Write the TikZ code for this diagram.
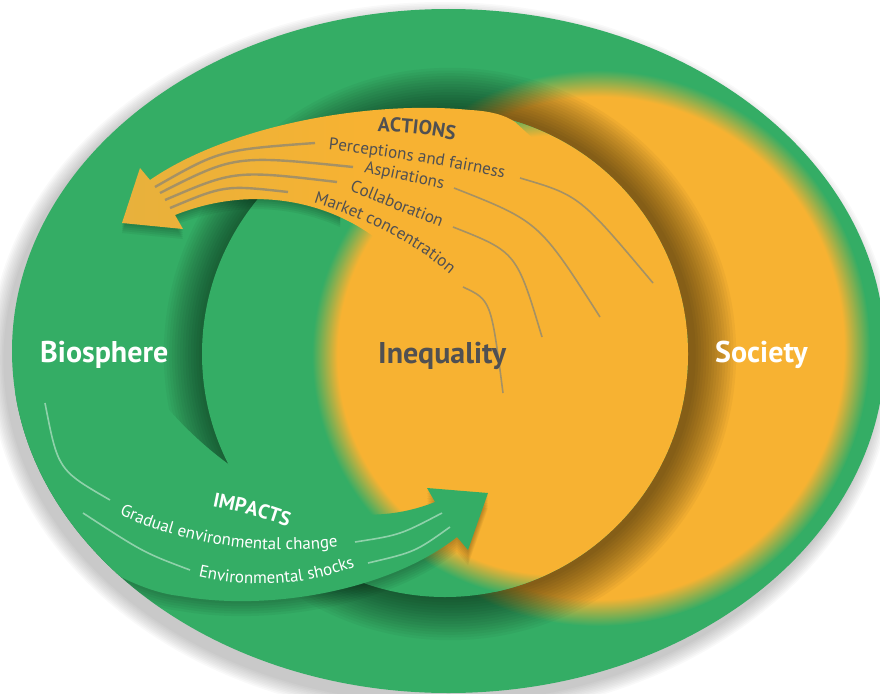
\documentclass[tikz,border=0pt]{standalone}
\usepackage{fontspec}
\setmainfont{PT Sans}
\usetikzlibrary{decorations.text}

\definecolor{leaf}{RGB}{52,173,101}
\definecolor{amber}{RGB}{247,178,50}
\definecolor{amberdim}{RGB}{231,177,60}
\definecolor{ink}{RGB}{80,80,82}
\definecolor{strand}{RGB}{165,145,100}

% soft edged discs
\pgfdeclareradialshading{socglow}{\pgfpoint{0bp}{0bp}}{color(0bp)=(amber); color(22.6bp)=(amber); color(25bp)=(leaf); color(50bp)=(leaf)}
\pgfdeclareradialshading{ineqglow}{\pgfpoint{0bp}{0bp}}{color(0bp)=(amber); color(22.4bp)=(amber); color(25bp)=(leaf); color(50bp)=(leaf)}

% outlines of the two broad arrows
\newcommand{\actionsarrow}{(150,180) .. controls (230,125) and (370,100) .. (470,110) .. controls (490,111) and (505,115) .. (515,122) -- (600,200) -- (560,330) -- (440,340) .. controls (425,240) and (300,165) .. (175,215) -- (183,229) -- (122,223) -- (140,168) -- cycle}
\newcommand{\impactsarrow}{(118,340) -- (150,387) .. controls (230,490) and (340,540) .. (435,502) -- (427,488) -- (488,493) -- (468,550) -- (457,537) .. controls (390,590) and (270,612) .. (180,596) .. controls (120,590) and (0,520) .. (0,400) -- cycle}
\newcommand{\tagfont}{\fontsize{17}{20}\selectfont}
\newcommand{\headfont}{\fontsize{20}{24}\selectfont\bfseries}

\begin{document}
\begin{tikzpicture}[x=1pt, y=-1pt,
  bigword/.style={font=\fontsize{30}{34}\selectfont\bfseries, inner sep=0pt, anchor=base west},
  strandline/.style={draw=strand, line width=2.4pt},
  strandarc/.style={draw=strand, line width=1.6pt},
  paleline/.style={draw=white, draw opacity=0.45, line width=1.6pt},
  arctext/.style={decorate, decoration={text along path, text align=center, text color=#1}},
  ]
\useasboundingbox (0,0) rectangle (880,693);
\coordinate (rim) at (448.5,351);
\coordinate (core) at (445,354);
\coordinate (glowc) at (557,355);
\coordinate (socc) at (598,348);

% shadow under the outer ring
\foreach \k in {1,...,10}
  \fill[black, opacity=0.025] ([shift={(-7,9)}]rim) ellipse [x radius=436.5+1.6*\k, y radius=342+1.6*\k];
\fill[leaf] (rim) ellipse [x radius=436.5, y radius=342];

% society
\shade[shading=socglow] (socc) ellipse [x radius=272, y radius=278];

% halo round the inner disc
\foreach \k in {1,...,16}
  \fill[black, opacity=0.036] ([xshift=5pt]core) circle [radius=243+2.7*\k];

% inequality disc
\begin{scope}
  \clip (core) circle [radius=243];
  \fill[leaf] (core) circle [radius=243];
  \shade[shading=ineqglow] (glowc) circle [radius=245];
\end{scope}

% actions arrow
\begin{scope}
  \clip (0,0) rectangle (340,693);
  \foreach \k in {1,...,5}
    \fill[black, opacity=0.05, shift={(0,2*\k)}] \actionsarrow;
\end{scope}
\shade[left color=amberdim, right color=amber, middle color=amber] \actionsarrow;

\draw[strandline] (155,187) .. controls (220,150) .. (315,143);
\draw[strandline] (160,193) .. controls (235,155) .. (353,167);
\draw[strandline] (165,200) .. controls (235,170) .. (337,182);
\draw[strandline] (170,208) .. controls (225,185) .. (288,192);
\draw[strandarc] (520,178) .. controls (579.5,195.5) .. (653,283);
\draw[strandarc] (454,188) .. controls (539,221.5) .. (600,317);
\draw[strandarc] (453,227) .. controls (516.5,252) .. (542,337);
\draw[strandarc] (463,287) .. controls (491,300) .. (503,393);

\path[arctext=ink, decoration={text={|\headfont|ACTIONS}}]
  (371,131) .. controls (415,133) .. (461,141);
\path[arctext=ink, decoration={text={|\tagfont|Perceptions and fairness}}]
  (320,149) .. controls (380,155) and (460,168) .. (512,180);
\path[arctext=ink, decoration={text={|\tagfont|Aspirations}}]
  (359,171) .. controls (400,180) .. (448,190);
\path[arctext=ink, decoration={text={|\tagfont|Collaboration}}]
  (343,188) .. controls (392,208) .. (447,230);
\path[arctext=ink, decoration={text={|\tagfont|Market concentration}}]
  (303,199) .. controls (360,215) and (420,245) .. (458,282);

% impacts arrow
\begin{scope}
  \clip (rim) ellipse [x radius=436.5, y radius=342];
  \foreach \k in {1,...,6}
    \fill[black, opacity=0.045, shift={(0,2.5*\k)}] \impactsarrow;
  \fill[leaf] \impactsarrow;
\end{scope}

\draw[paleline] (45,403) .. controls (58,470) .. (110,500);
\draw[paleline] (355,542) .. controls (400,535) .. (442,513);
\draw[paleline] (83,513) .. controls (143.5,552.5) .. (190,570);
\draw[paleline] (368,563) .. controls (415,552) .. (450,527);

\path[arctext=white, decoration={text={|\headfont|IMPACTS}}]
  (206,505) .. controls (250,514) .. (294,529);
\path[arctext=white, decoration={text={|\tagfont|Gradual environmental change}}]
  (111,511) .. controls (190,548) and (270,556) .. (347,546);
\path[arctext=white, decoration={text={|\tagfont|Environmental shocks}}]
  (191,575) .. controls (240,588) and (305,588) .. (362,564);

% the three spheres
\node[bigword, text=white] (bio) at (40,362) {Biosphere};
\node[bigword, text=ink] (ineq) at (378,363) {Inequality};
\node[bigword, text=white] (soc) at (715,362) {Society};
\end{tikzpicture}
\end{document}
